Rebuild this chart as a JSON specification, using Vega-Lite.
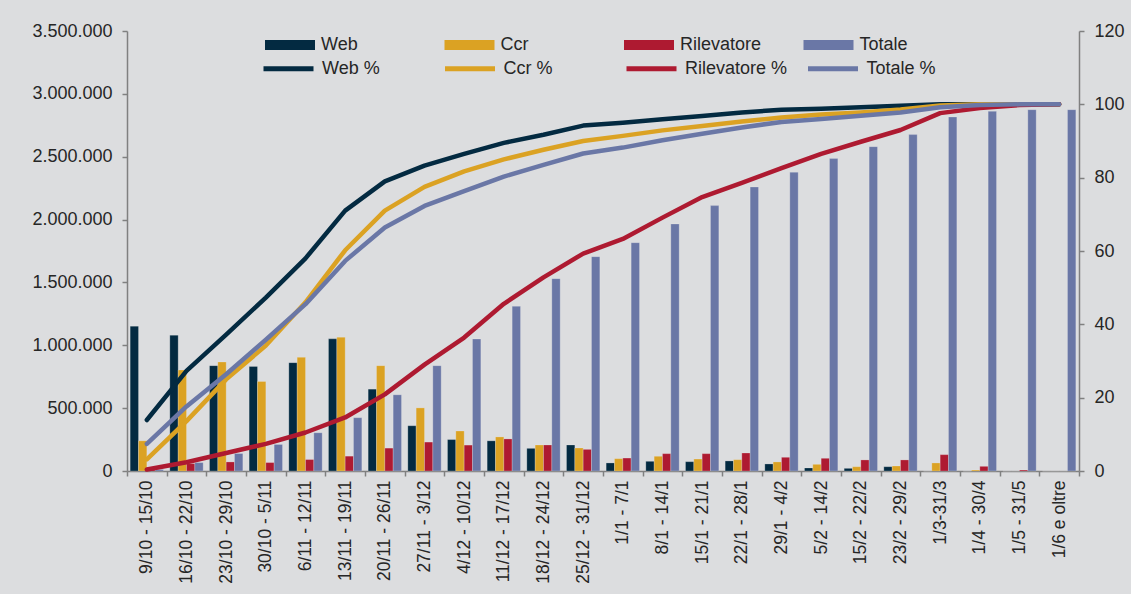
{
  "$schema": "https://vega.github.io/schema/vega-lite/v6.json",
  "width": 952,
  "height": 440,
  "padding": {"left": 31, "top": 20, "right": 8, "bottom": 10},
  "background": "#dcdddf",
  "config": {
    "view": {"stroke": null},
    "font": "Liberation Sans",
    "axis": {
      "grid": false,
      "domainColor": "#808080",
      "tickColor": "#808080",
      "domainWidth": 1.5,
      "tickWidth": 1.5,
      "tickSize": 5,
      "labelFontSize": 18,
      "labelColor": "#262626",
      "labelFont": "Liberation Sans",
      "title": null
    },
    "legend": {
      "labelFont": "Liberation Sans",
      "labelFontSize": 18,
      "labelColor": "#262626",
      "padding": 0
    }
  },
  "datasets": {
    "bars": [
      {"week": "9/10 - 15/10", "serie": "Web", "valore": 1152000},
      {"week": "9/10 - 15/10", "serie": "Ccr", "valore": 240000},
      {"week": "9/10 - 15/10", "serie": "Rilevatore", "valore": 12000},
      {"week": "9/10 - 15/10", "serie": "Totale", "valore": 12000},
      {"week": "16/10 - 22/10", "serie": "Web", "valore": 1080000},
      {"week": "16/10 - 22/10", "serie": "Ccr", "valore": 803000},
      {"week": "16/10 - 22/10", "serie": "Rilevatore", "valore": 59000},
      {"week": "16/10 - 22/10", "serie": "Totale", "valore": 67000},
      {"week": "23/10 - 29/10", "serie": "Web", "valore": 838000},
      {"week": "23/10 - 29/10", "serie": "Ccr", "valore": 867000},
      {"week": "23/10 - 29/10", "serie": "Rilevatore", "valore": 72000},
      {"week": "23/10 - 29/10", "serie": "Totale", "valore": 139000},
      {"week": "30/10 - 5/11", "serie": "Web", "valore": 832000},
      {"week": "30/10 - 5/11", "serie": "Ccr", "valore": 712000},
      {"week": "30/10 - 5/11", "serie": "Rilevatore", "valore": 67000},
      {"week": "30/10 - 5/11", "serie": "Totale", "valore": 211000},
      {"week": "6/11 - 12/11", "serie": "Web", "valore": 862000},
      {"week": "6/11 - 12/11", "serie": "Ccr", "valore": 904000},
      {"week": "6/11 - 12/11", "serie": "Rilevatore", "valore": 91000},
      {"week": "6/11 - 12/11", "serie": "Totale", "valore": 304000},
      {"week": "13/11 - 19/11", "serie": "Web", "valore": 1051000},
      {"week": "13/11 - 19/11", "serie": "Ccr", "valore": 1064000},
      {"week": "13/11 - 19/11", "serie": "Rilevatore", "valore": 118000},
      {"week": "13/11 - 19/11", "serie": "Totale", "valore": 424000},
      {"week": "20/11 - 26/11", "serie": "Web", "valore": 651000},
      {"week": "20/11 - 26/11", "serie": "Ccr", "valore": 838000},
      {"week": "20/11 - 26/11", "serie": "Rilevatore", "valore": 182000},
      {"week": "20/11 - 26/11", "serie": "Totale", "valore": 606000},
      {"week": "27/11 - 3/12", "serie": "Web", "valore": 360000},
      {"week": "27/11 - 3/12", "serie": "Ccr", "valore": 502000},
      {"week": "27/11 - 3/12", "serie": "Rilevatore", "valore": 230000},
      {"week": "27/11 - 3/12", "serie": "Totale", "valore": 838000},
      {"week": "4/12 - 10/12", "serie": "Web", "valore": 250000},
      {"week": "4/12 - 10/12", "serie": "Ccr", "valore": 318000},
      {"week": "4/12 - 10/12", "serie": "Rilevatore", "valore": 206000},
      {"week": "4/12 - 10/12", "serie": "Totale", "valore": 1050000},
      {"week": "11/12 - 17/12", "serie": "Web", "valore": 240000},
      {"week": "11/12 - 17/12", "serie": "Ccr", "valore": 271000},
      {"week": "11/12 - 17/12", "serie": "Rilevatore", "valore": 255000},
      {"week": "11/12 - 17/12", "serie": "Totale", "valore": 1310000},
      {"week": "18/12 - 24/12", "serie": "Web", "valore": 180000},
      {"week": "18/12 - 24/12", "serie": "Ccr", "valore": 207000},
      {"week": "18/12 - 24/12", "serie": "Rilevatore", "valore": 207000},
      {"week": "18/12 - 24/12", "serie": "Totale", "valore": 1530000},
      {"week": "25/12 - 31/12", "serie": "Web", "valore": 207000},
      {"week": "25/12 - 31/12", "serie": "Ccr", "valore": 183000},
      {"week": "25/12 - 31/12", "serie": "Rilevatore", "valore": 172000},
      {"week": "25/12 - 31/12", "serie": "Totale", "valore": 1705000},
      {"week": "1/1 - 7/1", "serie": "Web", "valore": 64000},
      {"week": "1/1 - 7/1", "serie": "Ccr", "valore": 98000},
      {"week": "1/1 - 7/1", "serie": "Rilevatore", "valore": 103000},
      {"week": "1/1 - 7/1", "serie": "Totale", "valore": 1816000},
      {"week": "8/1 - 14/1", "serie": "Web", "valore": 77000},
      {"week": "8/1 - 14/1", "serie": "Ccr", "valore": 117000},
      {"week": "8/1 - 14/1", "serie": "Rilevatore", "valore": 138000},
      {"week": "8/1 - 14/1", "serie": "Totale", "valore": 1965000},
      {"week": "15/1 - 21/1", "serie": "Web", "valore": 74000},
      {"week": "15/1 - 21/1", "serie": "Ccr", "valore": 95000},
      {"week": "15/1 - 21/1", "serie": "Rilevatore", "valore": 138000},
      {"week": "15/1 - 21/1", "serie": "Totale", "valore": 2111000},
      {"week": "22/1 - 28/1", "serie": "Web", "valore": 80000},
      {"week": "22/1 - 28/1", "serie": "Ccr", "valore": 90000},
      {"week": "22/1 - 28/1", "serie": "Rilevatore", "valore": 143000},
      {"week": "22/1 - 28/1", "serie": "Totale", "valore": 2259000},
      {"week": "29/1 - 4/2", "serie": "Web", "valore": 56000},
      {"week": "29/1 - 4/2", "serie": "Ccr", "valore": 72000},
      {"week": "29/1 - 4/2", "serie": "Rilevatore", "valore": 109000},
      {"week": "29/1 - 4/2", "serie": "Totale", "valore": 2376000},
      {"week": "5/2 - 14/2", "serie": "Web", "valore": 24000},
      {"week": "5/2 - 14/2", "serie": "Ccr", "valore": 53000},
      {"week": "5/2 - 14/2", "serie": "Rilevatore", "valore": 101000},
      {"week": "5/2 - 14/2", "serie": "Totale", "valore": 2485000},
      {"week": "15/2 - 22/2", "serie": "Web", "valore": 21000},
      {"week": "15/2 - 22/2", "serie": "Ccr", "valore": 34000},
      {"week": "15/2 - 22/2", "serie": "Rilevatore", "valore": 88000},
      {"week": "15/2 - 22/2", "serie": "Totale", "valore": 2580000},
      {"week": "23/2 - 29/2", "serie": "Web", "valore": 34000},
      {"week": "23/2 - 29/2", "serie": "Ccr", "valore": 40000},
      {"week": "23/2 - 29/2", "serie": "Rilevatore", "valore": 88000},
      {"week": "23/2 - 29/2", "serie": "Totale", "valore": 2676000},
      {"week": "1/3-31/3", "serie": "Web", "valore": 0},
      {"week": "1/3-31/3", "serie": "Ccr", "valore": 64000},
      {"week": "1/3-31/3", "serie": "Rilevatore", "valore": 130000},
      {"week": "1/3-31/3", "serie": "Totale", "valore": 2816000},
      {"week": "1/4 - 30/4", "serie": "Web", "valore": 0},
      {"week": "1/4 - 30/4", "serie": "Ccr", "valore": 8000},
      {"week": "1/4 - 30/4", "serie": "Rilevatore", "valore": 37000},
      {"week": "1/4 - 30/4", "serie": "Totale", "valore": 2861000},
      {"week": "1/5 - 31/5", "serie": "Web", "valore": 0},
      {"week": "1/5 - 31/5", "serie": "Ccr", "valore": 0},
      {"week": "1/5 - 31/5", "serie": "Rilevatore", "valore": 8000},
      {"week": "1/5 - 31/5", "serie": "Totale", "valore": 2874000},
      {"week": "1/6 e oltre", "serie": "Web", "valore": 0},
      {"week": "1/6 e oltre", "serie": "Ccr", "valore": 0},
      {"week": "1/6 e oltre", "serie": "Rilevatore", "valore": 0},
      {"week": "1/6 e oltre", "serie": "Totale", "valore": 2874000}
    ],
    "lines": [
      {"week": "9/10 - 15/10", "serie": "Web %", "pct": 13.9},
      {"week": "16/10 - 22/10", "serie": "Web %", "pct": 27.3},
      {"week": "23/10 - 29/10", "serie": "Web %", "pct": 37.2},
      {"week": "30/10 - 5/11", "serie": "Web %", "pct": 47.3},
      {"week": "6/11 - 12/11", "serie": "Web %", "pct": 58.0},
      {"week": "13/11 - 19/11", "serie": "Web %", "pct": 71.0},
      {"week": "20/11 - 26/11", "serie": "Web %", "pct": 79.0},
      {"week": "27/11 - 3/12", "serie": "Web %", "pct": 83.3},
      {"week": "4/12 - 10/12", "serie": "Web %", "pct": 86.5},
      {"week": "11/12 - 17/12", "serie": "Web %", "pct": 89.5},
      {"week": "18/12 - 24/12", "serie": "Web %", "pct": 91.7},
      {"week": "25/12 - 31/12", "serie": "Web %", "pct": 94.2},
      {"week": "1/1 - 7/1", "serie": "Web %", "pct": 95.0},
      {"week": "8/1 - 14/1", "serie": "Web %", "pct": 95.9},
      {"week": "15/1 - 21/1", "serie": "Web %", "pct": 96.8},
      {"week": "22/1 - 28/1", "serie": "Web %", "pct": 97.8},
      {"week": "29/1 - 4/2", "serie": "Web %", "pct": 98.5},
      {"week": "5/2 - 14/2", "serie": "Web %", "pct": 98.8},
      {"week": "15/2 - 22/2", "serie": "Web %", "pct": 99.2},
      {"week": "23/2 - 29/2", "serie": "Web %", "pct": 99.6},
      {"week": "1/3-31/3", "serie": "Web %", "pct": 100},
      {"week": "1/4 - 30/4", "serie": "Web %", "pct": 100},
      {"week": "1/5 - 31/5", "serie": "Web %", "pct": 100},
      {"week": "1/6 e oltre", "serie": "Web %", "pct": 100},
      {"week": "9/10 - 15/10", "serie": "Ccr %", "pct": 3.2},
      {"week": "16/10 - 22/10", "serie": "Ccr %", "pct": 13.6},
      {"week": "23/10 - 29/10", "serie": "Ccr %", "pct": 25.0},
      {"week": "30/10 - 5/11", "serie": "Ccr %", "pct": 34.2},
      {"week": "6/11 - 12/11", "serie": "Ccr %", "pct": 46.0},
      {"week": "13/11 - 19/11", "serie": "Ccr %", "pct": 60.2},
      {"week": "20/11 - 26/11", "serie": "Ccr %", "pct": 71.0},
      {"week": "27/11 - 3/12", "serie": "Ccr %", "pct": 77.5},
      {"week": "4/12 - 10/12", "serie": "Ccr %", "pct": 81.7},
      {"week": "11/12 - 17/12", "serie": "Ccr %", "pct": 85.0},
      {"week": "18/12 - 24/12", "serie": "Ccr %", "pct": 87.6},
      {"week": "25/12 - 31/12", "serie": "Ccr %", "pct": 90.0},
      {"week": "1/1 - 7/1", "serie": "Ccr %", "pct": 91.4},
      {"week": "8/1 - 14/1", "serie": "Ccr %", "pct": 92.9},
      {"week": "15/1 - 21/1", "serie": "Ccr %", "pct": 94.1},
      {"week": "22/1 - 28/1", "serie": "Ccr %", "pct": 95.3},
      {"week": "29/1 - 4/2", "serie": "Ccr %", "pct": 96.4},
      {"week": "5/2 - 14/2", "serie": "Ccr %", "pct": 97.2},
      {"week": "15/2 - 22/2", "serie": "Ccr %", "pct": 97.8},
      {"week": "23/2 - 29/2", "serie": "Ccr %", "pct": 98.6},
      {"week": "1/3-31/3", "serie": "Ccr %", "pct": 99.7},
      {"week": "1/4 - 30/4", "serie": "Ccr %", "pct": 100},
      {"week": "1/5 - 31/5", "serie": "Ccr %", "pct": 100},
      {"week": "1/6 e oltre", "serie": "Ccr %", "pct": 100},
      {"week": "9/10 - 15/10", "serie": "Rilevatore %", "pct": 0.4},
      {"week": "16/10 - 22/10", "serie": "Rilevatore %", "pct": 2.4},
      {"week": "23/10 - 29/10", "serie": "Rilevatore %", "pct": 4.9},
      {"week": "30/10 - 5/11", "serie": "Rilevatore %", "pct": 7.4},
      {"week": "6/11 - 12/11", "serie": "Rilevatore %", "pct": 10.5},
      {"week": "13/11 - 19/11", "serie": "Rilevatore %", "pct": 14.6},
      {"week": "20/11 - 26/11", "serie": "Rilevatore %", "pct": 20.9},
      {"week": "27/11 - 3/12", "serie": "Rilevatore %", "pct": 29.0},
      {"week": "4/12 - 10/12", "serie": "Rilevatore %", "pct": 36.4},
      {"week": "11/12 - 17/12", "serie": "Rilevatore %", "pct": 45.6},
      {"week": "18/12 - 24/12", "serie": "Rilevatore %", "pct": 52.8},
      {"week": "25/12 - 31/12", "serie": "Rilevatore %", "pct": 59.3},
      {"week": "1/1 - 7/1", "serie": "Rilevatore %", "pct": 63.3},
      {"week": "8/1 - 14/1", "serie": "Rilevatore %", "pct": 69.1},
      {"week": "15/1 - 21/1", "serie": "Rilevatore %", "pct": 74.7},
      {"week": "22/1 - 28/1", "serie": "Rilevatore %", "pct": 78.6},
      {"week": "29/1 - 4/2", "serie": "Rilevatore %", "pct": 82.6},
      {"week": "5/2 - 14/2", "serie": "Rilevatore %", "pct": 86.5},
      {"week": "15/2 - 22/2", "serie": "Rilevatore %", "pct": 89.8},
      {"week": "23/2 - 29/2", "serie": "Rilevatore %", "pct": 93.0},
      {"week": "1/3-31/3", "serie": "Rilevatore %", "pct": 97.6},
      {"week": "1/4 - 30/4", "serie": "Rilevatore %", "pct": 99.0},
      {"week": "1/5 - 31/5", "serie": "Rilevatore %", "pct": 99.8},
      {"week": "1/6 e oltre", "serie": "Rilevatore %", "pct": 100},
      {"week": "9/10 - 15/10", "serie": "Totale %", "pct": 7.4},
      {"week": "16/10 - 22/10", "serie": "Totale %", "pct": 17.6},
      {"week": "23/10 - 29/10", "serie": "Totale %", "pct": 26.4},
      {"week": "30/10 - 5/11", "serie": "Totale %", "pct": 35.8},
      {"week": "6/11 - 12/11", "serie": "Totale %", "pct": 45.5},
      {"week": "13/11 - 19/11", "serie": "Totale %", "pct": 57.3},
      {"week": "20/11 - 26/11", "serie": "Totale %", "pct": 66.4},
      {"week": "27/11 - 3/12", "serie": "Totale %", "pct": 72.3},
      {"week": "4/12 - 10/12", "serie": "Totale %", "pct": 76.3},
      {"week": "11/12 - 17/12", "serie": "Totale %", "pct": 80.3},
      {"week": "18/12 - 24/12", "serie": "Totale %", "pct": 83.5},
      {"week": "25/12 - 31/12", "serie": "Totale %", "pct": 86.6},
      {"week": "1/1 - 7/1", "serie": "Totale %", "pct": 88.2},
      {"week": "8/1 - 14/1", "serie": "Totale %", "pct": 90.2},
      {"week": "15/1 - 21/1", "serie": "Totale %", "pct": 92.0},
      {"week": "22/1 - 28/1", "serie": "Totale %", "pct": 93.7},
      {"week": "29/1 - 4/2", "serie": "Totale %", "pct": 95.2},
      {"week": "5/2 - 14/2", "serie": "Totale %", "pct": 96.0},
      {"week": "15/2 - 22/2", "serie": "Totale %", "pct": 96.9},
      {"week": "23/2 - 29/2", "serie": "Totale %", "pct": 97.8},
      {"week": "1/3-31/3", "serie": "Totale %", "pct": 99.2},
      {"week": "1/4 - 30/4", "serie": "Totale %", "pct": 99.8},
      {"week": "1/5 - 31/5", "serie": "Totale %", "pct": 100},
      {"week": "1/6 e oltre", "serie": "Totale %", "pct": 100}
    ]
  },
  "encoding": {
    "x": {
      "field": "week",
      "type": "nominal",
      "sort": ["9/10 - 15/10", "16/10 - 22/10", "23/10 - 29/10", "30/10 - 5/11", "6/11 - 12/11", "13/11 - 19/11", "20/11 - 26/11", "27/11 - 3/12", "4/12 - 10/12", "11/12 - 17/12", "18/12 - 24/12", "25/12 - 31/12", "1/1 - 7/1", "8/1 - 14/1", "15/1 - 21/1", "22/1 - 28/1", "29/1 - 4/2", "5/2 - 14/2", "15/2 - 22/2", "23/2 - 29/2", "1/3-31/3", "1/4 - 30/4", "1/5 - 31/5", "1/6 e oltre"],
      "scale": {"paddingInner": 0, "paddingOuter": 0},
      "axis": {
        "labelAngle": -90,
        "labelPadding": 4,
        "labelFontSize": 17.5,
        "tickBand": "extent",
        "labelLimit": 200
      }
    }
  },
  "layer": [
    {
      "data": {"name": "bars"},
      "mark": {"type": "bar", "stroke": "#eeeeee", "strokeWidth": 0.4, "strokeOpacity": 0.6},
      "encoding": {
        "xOffset": {
          "field": "serie",
          "type": "nominal",
          "sort": ["Web", "Ccr", "Rilevatore", "Totale"],
          "scale": {"paddingInner": 0, "paddingOuter": 0.38}
        },
        "y": {
          "field": "valore",
          "type": "quantitative",
          "scale": {"domain": [0, 3500000], "nice": false},
          "axis": {
            "orient": "left",
            "values": [0, 500000, 1000000, 1500000, 2000000, 2500000, 3000000, 3500000],
            "labelExpr": "replace(format(datum.value, ','), regexp(',', 'g'), '.')",
            "labelPadding": 10
          }
        },
        "fill": {
          "field": "serie",
          "type": "nominal",
          "scale": {
            "domain": ["Web", "Ccr", "Rilevatore", "Totale"],
            "range": ["#032a41", "#dba223", "#ae1a31", "#6a77a6"]
          },
          "legend": {
            "title": null,
            "orient": "none",
            "legendX": 138,
            "legendY": -11,
            "direction": "horizontal",
            "columns": 4,
            "gridAlign": "all",
            "columnPadding": 41.5,
            "symbolType": "M-1,-0.2H1V0.2H-1Z",
            "symbolSize": 2500,
            "symbolStrokeWidth": 0,
            "labelOffset": 6
          }
        }
      }
    },
    {
      "data": {"name": "lines"},
      "mark": {"type": "line", "strokeWidth": 4.5, "strokeCap": "round", "strokeJoin": "round"},
      "encoding": {
        "y": {
          "field": "pct",
          "type": "quantitative",
          "scale": {"domain": [0, 120], "nice": false},
          "axis": {
            "orient": "right",
            "values": [0, 20, 40, 60, 80, 100, 120],
            "labelPadding": 10
          }
        },
        "stroke": {
          "field": "serie",
          "type": "nominal",
          "scale": {
            "domain": ["Web %", "Ccr %", "Rilevatore %", "Totale %"],
            "range": ["#032a41", "#dba223", "#ae1a31", "#6a77a6"]
          },
          "legend": {
            "title": null,
            "orient": "none",
            "legendX": 134,
            "legendY": 10,
            "direction": "horizontal",
            "columns": 4,
            "gridAlign": "all",
            "columnPadding": 9.5,
            "symbolType": "stroke",
            "symbolSize": 2500,
            "symbolStrokeWidth": 5,
            "labelOffset": 6
          }
        }
      }
    }
  ],
  "resolve": {"scale": {"y": "independent"}}
}
